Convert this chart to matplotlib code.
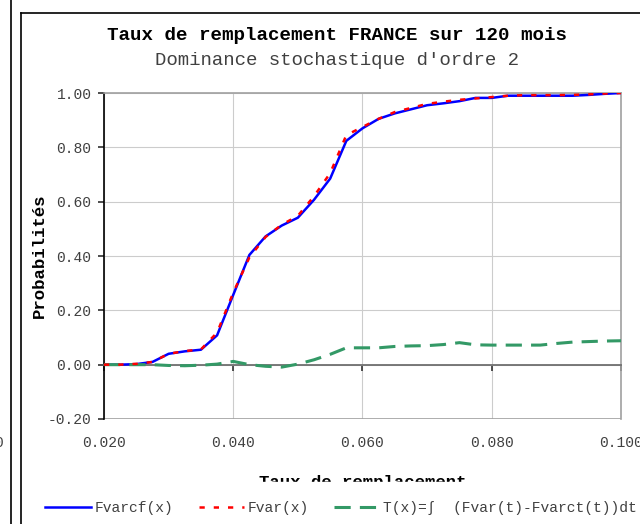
import numpy as np
import matplotlib
matplotlib.use("Agg")
import matplotlib.pyplot as plt
from matplotlib.lines import Line2D

plt.rcParams['font.family'] = ['Liberation Mono', 'DejaVu Sans Mono']

# taux de remplacement (abscisses)
taux = [0.0200, 0.0225, 0.0250, 0.0275, 0.0300, 0.0325, 0.0350, 0.0375,
        0.0400, 0.0425, 0.0450, 0.0475, 0.0500, 0.0525, 0.0550, 0.0575,
        0.0600, 0.0625, 0.0650, 0.0675, 0.0700, 0.0725, 0.0750, 0.0775,
        0.0800, 0.0825, 0.0850, 0.0875, 0.0900, 0.0925, 0.0950, 0.0975,
        0.1000]

# fonctions de repartition
fvarcf = [0.000, 0.000, 0.002, 0.010, 0.040, 0.049, 0.055, 0.108,
          0.257, 0.404, 0.472, 0.512, 0.541, 0.607, 0.685, 0.824,
          0.870, 0.905, 0.925, 0.940, 0.955, 0.962, 0.970, 0.982,
          0.982, 0.990, 0.990, 0.990, 0.990, 0.990, 0.993, 0.997,
          1.000]
fvar = [0.000, 0.000, 0.003, 0.010, 0.040, 0.050, 0.056, 0.118,
        0.265, 0.395, 0.470, 0.515, 0.548, 0.620, 0.705, 0.845,
        0.875, 0.905, 0.930, 0.945, 0.960, 0.968, 0.975, 0.980,
        0.985, 0.990, 0.992, 0.992, 0.992, 0.993, 0.995, 0.998,
        1.000]
# integrale de la difference
t_x = [0.000, 0.000, 0.000, 0.000, -0.003, -0.004, -0.002, 0.002,
       0.012, 0.000, -0.006, -0.009, 0.002, 0.018, 0.038, 0.062,
       0.062, 0.062, 0.067, 0.069, 0.070, 0.074, 0.081, 0.073,
       0.072, 0.072, 0.072, 0.072, 0.078, 0.083, 0.085, 0.087,
       0.088]

xticks = [0.020, 0.040, 0.060, 0.080, 0.100]
yticks = [-0.20, 0.00, 0.20, 0.40, 0.60, 0.80, 1.00]

fig = plt.figure(figsize=(6.4, 5.24), dpi=100)
ax = fig.add_axes([0.1625, 0.2004, 0.8078, 0.6221])

ax.plot(taux, fvarcf, color='#0000ff', lw=1.8, label='Fvarcf(x)', zorder=3)
ax.plot(taux, fvar, color='#ff0000', lw=1.8, dashes=(2.1, 3.6),
        label='Fvar(x)', zorder=4)
ax.plot(taux, t_x, color='#339966', lw=2.2, dashes=(5.3, 3.0),
        label='T(x)=∫  (Fvar(t)-Fvarct(t))dt', zorder=3)

ax.set_xlim(0.020, 0.100)
ax.set_ylim(-0.20, 1.00)
ax.set_xticks(xticks)
ax.set_yticks(yticks)
ax.set_xticklabels([f"{v:.3f}" for v in xticks])
ax.set_yticklabels([f"{v:.2f}" for v in yticks])
ax.grid(True, color='#cccccc', lw=0.8)
ax.set_axisbelow(True)

# axe horizontal a y=0, etiquettes repoussees sous le cadre
ax.spines['bottom'].set_position(('data', 0))
ax.spines['bottom'].set_color('#707070')
ax.spines['bottom'].set_linewidth(1.3)
ax.axhline(-0.20, color='#a0a0a0', lw=1.2, zorder=1)
for s in ['top', 'right']:
    ax.spines[s].set_color('#a0a0a0')
    ax.spines[s].set_linewidth(1.2)
ax.spines['left'].set_color('black')
ax.spines['left'].set_linewidth(1.2)
ax.tick_params(axis='x', direction='out', length=4, width=1.2,
               color='#303030', pad=47.5, labelsize=10.5, labelcolor='#404040')
ax.tick_params(axis='y', direction='out', length=4, width=1.2,
               color='#303030', pad=5, labelsize=10.5, labelcolor='#404040')

ax.set_ylabel('Probabilités', fontsize=12.5, fontweight='bold', labelpad=0.5)
ax.set_xlabel('Taux de remplacement', fontsize=12.5, fontweight='bold',
              labelpad=18)

fig.text(0.526, 0.933, 'Taux de remplacement FRANCE sur 120 mois',
         ha='center', va='center', fontsize=13.8, fontweight='bold')
fig.text(0.526, 0.885, "Dominance stochastique d'ordre 2",
         ha='center', va='center', fontsize=13.7, color='#404040')

# legende en bas, fond blanc par-dessus le titre de l'axe x
leg = fig.legend(loc='center', bbox_to_anchor=(0.533, 0.030), ncol=3,
                 fontsize=10.5, frameon=True, handlelength=3.1,
                 handletextpad=0.25, columnspacing=1.75, borderpad=1.3,
                 borderaxespad=0)
leg.get_frame().set_edgecolor('white')
leg.get_frame().set_facecolor('white')
leg.get_frame().set_alpha(1)
leg.get_frame().set_boxstyle('square', pad=0)
leg.set_zorder(10)
for t in leg.get_texts():
    t.set_color('#404040')

# cadres des graphiques
fig.add_artist(Line2D([11 / 640, 11 / 640], [0, 1], color='black', lw=1.2))
fig.add_artist(Line2D([21 / 640, 21 / 640], [0, 1 - 13 / 524],
                      color='black', lw=1.2))
fig.add_artist(Line2D([21 / 640, 1], [1 - 13 / 524, 1 - 13 / 524],
                      color='black', lw=1.2))
fig.text(3 / 640, 1 - 443 / 524, '0', ha='right', va='center',
         fontsize=10.5, color='#404040')

fig.savefig('out.png', dpi=100)
